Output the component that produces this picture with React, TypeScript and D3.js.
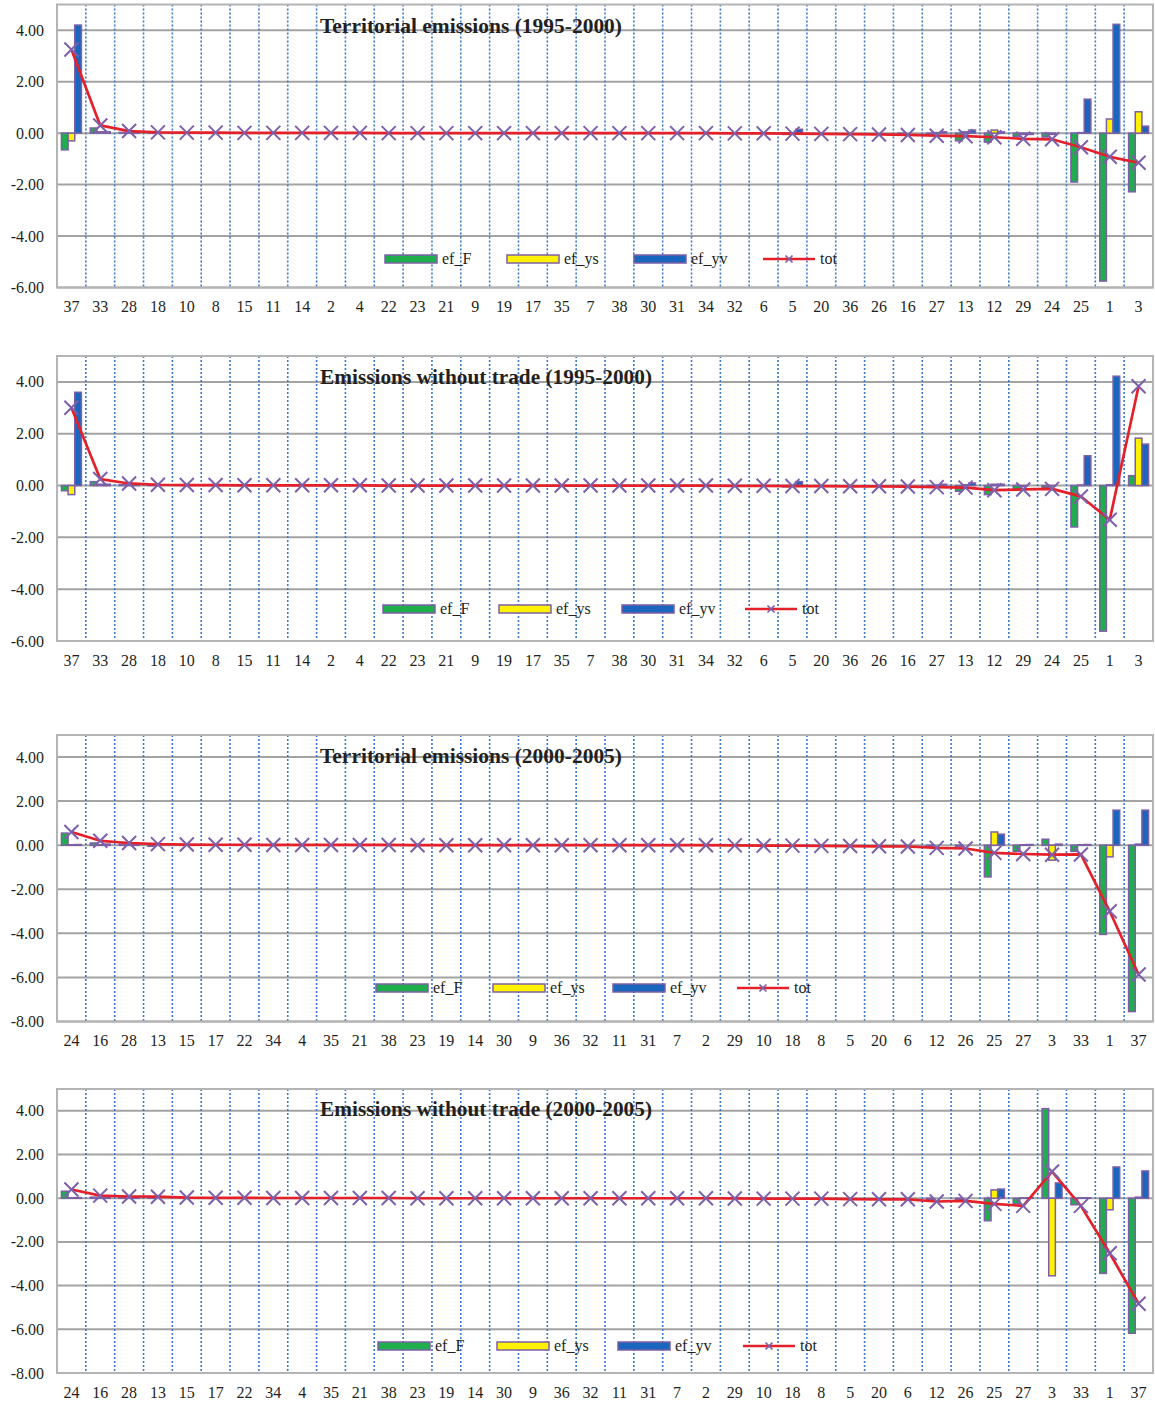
import React from "react";
import * as d3 from "d3";

// ---------- categories ----------
const cats9500 = [37,33,28,18,10,8,15,11,14,2,4,22,23,21,9,19,17,35,7,38,30,31,34,32,6,5,20,36,26,16,27,13,12,29,24,25,1,3];
const cats0005 = [24,16,28,13,15,17,22,34,4,35,21,38,23,19,14,30,9,36,32,11,31,7,2,29,10,18,8,5,20,6,12,26,25,27,3,33,1,37];

// ---------- Territorial emissions (1995-2000) ----------
const terr9500_F  = [-0.65,0.2,0.03,0.01,0,0,0,0,0,0,0,0,0,0,0,0,0,0,0,0,0,0,0,0,0,-0.05,0,0,0,-0.02,-0.05,-0.3,-0.35,-0.12,-0.15,-1.9,-5.75,-2.28];
const terr9500_ys = [-0.3,0.05,0.02,0,0,0,0,0,0,0,0,0,0,0,0,0,0,0,0,0,0,0,0,0,0,0,0,0,0,0,0.02,0.05,0.12,-0.05,-0.05,0.02,0.55,0.83];
const terr9500_yv = [4.2,0.05,0.02,0,0,0,0,0,0,0,0,0,0,0,0,0,0,0,0,0,0,0,0,0,0,0.15,0,0,0,0,0.05,0.12,0.05,-0.05,0,1.32,4.23,0.27];
const terr9500_tot = [3.25,0.3,0.08,0.03,0.02,0.02,0.01,0.01,0.01,0.01,0.01,0,0,0,0,0,0,0,0,0,0,0,0,-0.01,-0.01,-0.02,-0.03,-0.04,-0.05,-0.07,-0.1,-0.12,-0.16,-0.22,-0.24,-0.55,-0.92,-1.15];

// ---------- Emissions without trade (1995-2000) ----------
const notr9500_F  = [-0.2,0.15,0.03,0.01,0,0,0,0,0,0,0,0,0,0,0,0,0,0,0,0,0,0,0,0,0,-0.05,0,0,0,-0.02,-0.05,-0.22,-0.35,-0.15,-0.08,-1.6,-5.62,0.38];
const notr9500_ys = [-0.35,0.05,0.02,0,0,0,0,0,0,0,0,0,0,0,0,0,0,0,0,0,0,0,0,0,0,0,0,0,0,0,0.02,0.03,0.05,-0.03,-0.02,0.02,0.03,1.83];
const notr9500_yv = [3.6,0.05,0.02,0,0,0,0,0,0,0,0,0,0,0,0,0,0,0,0,0,0,0,0,0,0,0.15,0,0,0,0,0.05,0.1,0.05,0,0,1.15,4.22,1.6];
const notr9500_tot = [3.0,0.25,0.08,0.03,0.02,0.02,0.01,0.01,0.01,0.01,0.01,0,0,0,0,0,0,0,0,0,0,0,0,-0.01,-0.01,-0.02,-0.02,-0.03,-0.03,-0.04,-0.06,-0.08,-0.18,-0.15,-0.13,-0.42,-1.32,3.83];

// ---------- Territorial emissions (2000-2005) ----------
const terr0005_F  = [0.55,0.1,0.05,-0.05,0,0,0,0,0,0,0,0,0,0,0,0,0,0,0,0,0,0,0,0,0,0,0,0,0,0,-0.05,-0.05,-1.44,-0.28,0.27,-0.28,-4.05,-7.55];
const terr0005_ys = [0.02,0.02,0.02,0,0,0,0,0,0,0,0,0,0,0,0,0,0,0,0,0,0,0,0,0,0,0,0,0,0,0,0,0,0.6,0.02,-0.68,0.02,-0.53,0.05];
const terr0005_yv = [0.03,0.05,0.02,0,0,0,0,0,0,0,0,0,0,0,0,0,0,0,0,0,0,0,0,0,0,0,0,0,0,0,0,0,0.5,0.03,0.05,0.03,1.59,1.59];
const terr0005_tot = [0.6,0.2,0.1,0.05,0.03,0.02,0.02,0.01,0.01,0.01,0.01,0.01,0,0,0,0,0,0,0,0,0,0,0,-0.01,-0.02,-0.02,-0.03,-0.04,-0.05,-0.06,-0.12,-0.15,-0.35,-0.4,-0.43,-0.42,-3.0,-5.87];

// ---------- Emissions without trade (2000-2005) ----------
const notr0005_F  = [0.32,0.05,0.03,0.02,0,0,0,0,0,0,0,0,0,0,0,0,0,0,0,0,0,0,0,0,0,0,0,0,0,0,-0.05,-0.05,-1.03,-0.25,4.1,-0.3,-3.44,-6.18];
const notr0005_ys = [0.02,0.02,0.02,0,0,0,0,0,0,0,0,0,0,0,0,0,0,0,0,0,0,0,0,0,0,0,0,0,0,0,0,0,0.38,0.02,-3.55,0.02,-0.53,0.05];
const notr0005_yv = [0.03,0.03,0.02,0,0,0,0,0,0,0,0,0,0,0,0,0,0,0,0,0,0,0,0,0,0,0,0,0,0,0,0,0,0.42,0.02,0.7,0.02,1.43,1.25];
const notr0005_tot = [0.4,0.12,0.08,0.07,0.03,0.02,0.02,0.01,0.01,0.01,0.01,0.01,0,0,0,0,0,0,0,0,0,0,0,-0.01,-0.02,-0.02,-0.02,-0.04,-0.05,-0.05,-0.15,-0.12,-0.26,-0.35,1.22,-0.35,-2.52,-4.83];

const seriesNames = ["ef_F", "ef_ys", "ef_yv", "tot"];
const yTicks9500 = [-6, -4, -2, 0, 2, 4];
const yTicks0005 = [-8, -6, -4, -2, 0, 2, 4];

const COLORS = {
  F: "#1fae4b",
  ys: "#fff200",
  yv: "#1a66bd",
  border: "#7c5fa6",
  line: "#e4202a",
  marker: "#7d60aa",
  grid: "#a3a3a3",
  dots: "#3a78cc",
  text: "#231f20",
};

const panels = [
  { title: "Territorial emissions (1995-2000)", cats: cats9500, F: terr9500_F, ys: terr9500_ys, yv: terr9500_yv, tot: terr9500_tot,
    yMin: -6, yMax: 5, ticks: yTicks9500, top: 4.5, bottom: 287.5, labelY: 312, titleY: 33, titleW: 302,
    legendY: 259, legendX: [385, 507, 634, 763] },
  { title: "Emissions without trade (1995-2000)", cats: cats9500, F: notr9500_F, ys: notr9500_ys, yv: notr9500_yv, tot: notr9500_tot,
    yMin: -6, yMax: 5, ticks: yTicks9500, top: 356, bottom: 641, labelY: 666, titleY: 384, titleW: 332,
    legendY: 609, legendX: [383, 499, 622, 745] },
  { title: "Territorial emissions (2000-2005)", cats: cats0005, F: terr0005_F, ys: terr0005_ys, yv: terr0005_yv, tot: terr0005_tot,
    yMin: -8, yMax: 5, ticks: yTicks0005, top: 735, bottom: 1021.5, labelY: 1046, titleY: 763, titleW: 302,
    legendY: 988, legendX: [376, 493, 613, 737] },
  { title: "Emissions without trade (2000-2005)", cats: cats0005, F: notr0005_F, ys: notr0005_ys, yv: notr0005_yv, tot: notr0005_tot,
    yMin: -8, yMax: 5, ticks: yTicks0005, top: 1089, bottom: 1373, labelY: 1398, titleY: 1116, titleW: 332,
    legendY: 1346, legendX: [378, 497, 618, 743] },
];

const LEFT = 57;
const RIGHT = 1153;
const FONT = "'Liberation Serif', 'Times New Roman', serif";

function Cross({ x, y, r, sw }: { x: number; y: number; r: number; sw: number }) {
  return (
    <path d={`M${x - r},${y - r}L${x + r},${y + r}M${x - r},${y + r}L${x + r},${y - r}`}
      stroke={COLORS.marker} strokeWidth={sw} fill="none" />
  );
}

function Panel({ p }: { p: (typeof panels)[number] }) {
  const x = d3.scaleBand<string>().domain(p.cats.map(String)).range([LEFT, RIGHT]).padding(0);
  const y = d3.scaleLinear().domain([p.yMin, p.yMax]).range([p.bottom, p.top]);
  const bw = x.bandwidth();
  const barW = bw / 4.33;
  const series = [
    { vals: p.F, color: COLORS.F },
    { vals: p.ys, color: COLORS.ys },
    { vals: p.yv, color: COLORS.yv },
  ];
  const cx = (i: number) => (x(String(p.cats[i])) as number) + bw / 2;
  const line = d3.line<number>().x((_, i) => cx(i)).y((d) => y(d));
  const y0 = y(0);

  return (
    <g>
      {/* horizontal gridlines */}
      {p.ticks.map((t) => (
        <line key={"g" + t} x1={LEFT} x2={RIGHT} y1={y(t)} y2={y(t)} stroke={COLORS.grid} strokeWidth={2} />
      ))}
      {/* vertical dotted separators */}
      {p.cats.slice(1).map((c, i) => {
        const xx = x(String(c)) as number;
        return (
          <line key={"v" + i} x1={xx} x2={xx} y1={p.top} y2={p.bottom} stroke={COLORS.dots}
            strokeWidth={1.6} strokeDasharray="2 2" />
        );
      })}
      {/* plot border */}
      <rect x={LEFT} y={p.top} width={RIGHT - LEFT} height={p.bottom - p.top} fill="none" stroke="#b4b4b4" strokeWidth={2} />
      {/* y tick labels */}
      {p.ticks.map((t) => (
        <text key={"t" + t} x={44} y={y(t) + 5.5} textAnchor="end" fontFamily={FONT} fontSize={16} fill={COLORS.text}>
          {t.toFixed(2)}
        </text>
      ))}
      {/* x labels */}
      {p.cats.map((c, i) => (
        <text key={"x" + i} x={cx(i)} y={p.labelY} textAnchor="middle" fontFamily={FONT} fontSize={16} fill={COLORS.text}>
          {c}
        </text>
      ))}
      {/* title */}
      <text x={320} y={p.titleY} fontFamily={FONT} fontWeight="bold" fontSize={20} fill={COLORS.text}
        textLength={p.titleW} lengthAdjust="spacingAndGlyphs">
        {p.title}
      </text>
      {/* bars */}
      {series.map((s, si) =>
        s.vals.map((v, i) => {
          const bx = cx(i) - 1.5 * barW + si * barW;
          const yy = y(v);
          return (
            <rect key={`b${si}-${i}`} x={bx} y={Math.min(yy, y0)} width={barW} height={Math.abs(yy - y0)}
              fill={s.color} stroke={COLORS.border} strokeWidth={1.5} />
          );
        })
      )}
      {/* total line */}
      <path d={line(p.tot) || ""} fill="none" stroke={COLORS.line} strokeWidth={2.7} strokeLinejoin="round" />
      {p.tot.map((v, i) => (
        <Cross key={"m" + i} x={cx(i)} y={y(v)} r={7} sw={2} />
      ))}
      {/* legend */}
      {seriesNames.map((name, li) => {
        const lx = p.legendX[li];
        const ly = p.legendY;
        return (
          <g key={"l" + li}>
            {li < 3 ? (
              <rect x={lx} y={ly - 4} width={52} height={8} fill={series[li].color} stroke={COLORS.border} strokeWidth={1.5} />
            ) : (
              <g>
                <line x1={lx} x2={lx + 52} y1={ly} y2={ly} stroke={COLORS.line} strokeWidth={2.7} />
                <Cross x={lx + 26} y={ly} r={3.5} sw={1.7} />
              </g>
            )}
            <text x={lx + 57} y={ly + 5} fontFamily={FONT} fontSize={16} fill={COLORS.text}>
              {name}
            </text>
          </g>
        );
      })}
    </g>
  );
}

export default function App() {
  return (
    <svg width={1155} height={1401} viewBox="0 0 1155 1401"
      style={{ position: "absolute", left: 0, top: 0, background: "#fff" }}>
      <rect width={1155} height={1401} fill="#fff" />
      {panels.map((p, i) => (
        <Panel key={i} p={p} />
      ))}
    </svg>
  );
}
